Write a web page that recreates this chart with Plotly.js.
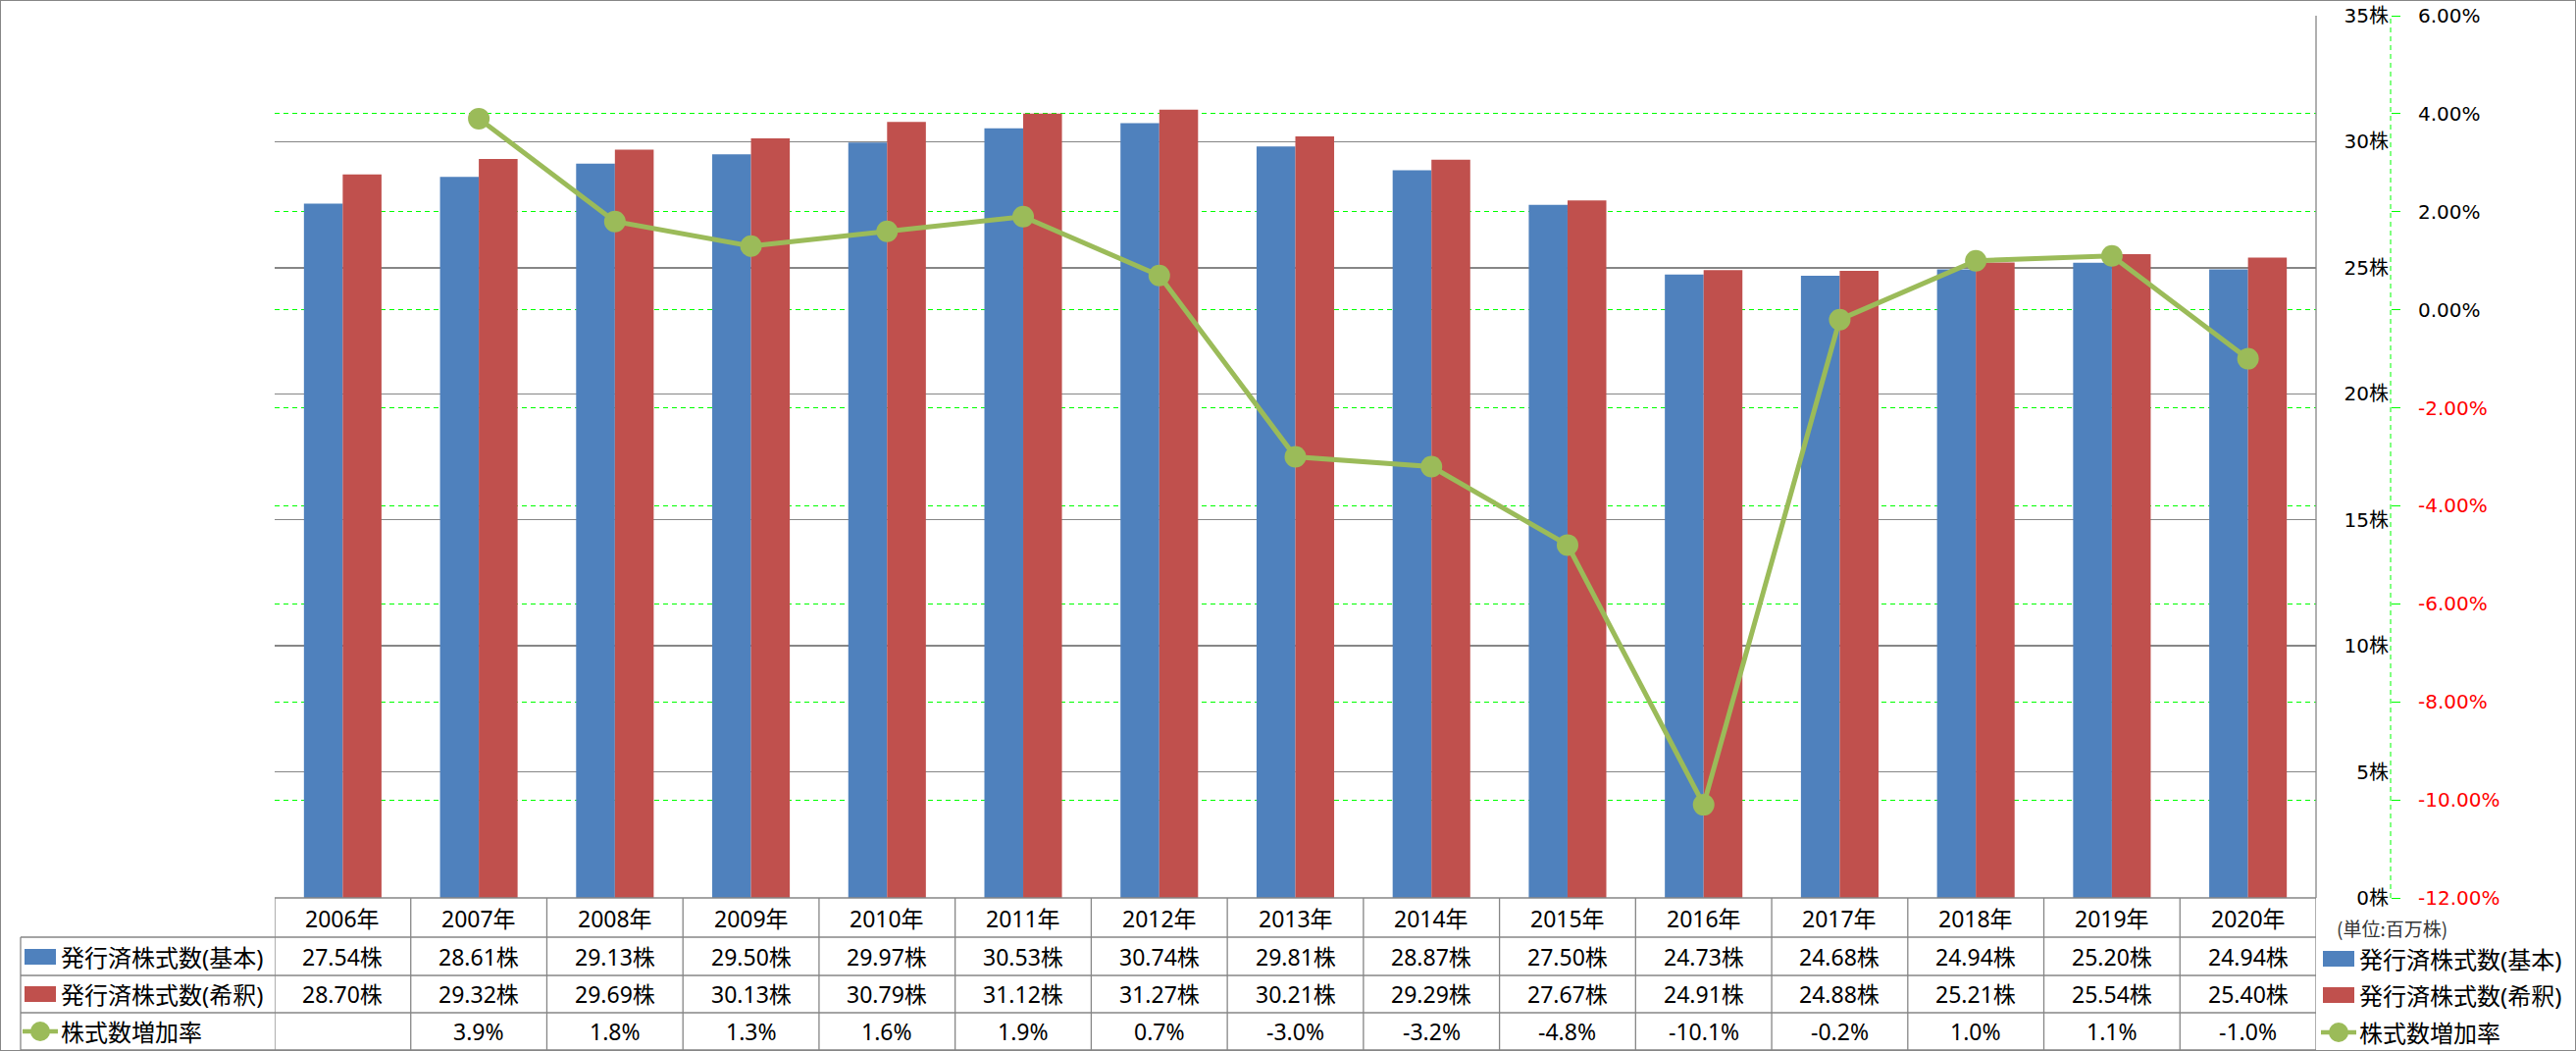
<!DOCTYPE html>
<html>
<head>
<meta charset="utf-8">
<script src="https://cdn.plot.ly/plotly-3.0.1.min.js"></script>
<style>
  html, body { margin: 0; padding: 0; background: #fff; }
  #plot { width: 2626px; height: 1071px; }
</style>
</head>
<body>
<div id="plot"></div>
<script>
// data (unit: million shares)
const years = ["2006年", "2007年", "2008年", "2009年", "2010年", "2011年", "2012年", "2013年",
  "2014年", "2015年", "2016年", "2017年", "2018年", "2019年", "2020年"];
const basicShares = [27.54, 28.61, 29.13, 29.50, 29.97, 30.53, 30.74, 29.81, 28.87, 27.50, 24.73, 24.68, 24.94, 25.20, 24.94];
const dilutedShares = [28.70, 29.32, 29.69, 30.13, 30.79, 31.12, 31.27, 30.21, 29.29, 27.67, 24.91, 24.88, 25.21, 25.54, 25.40];
const growthRate = [null, 3.9, 1.8, 1.3, 1.6, 1.9, 0.7, -3.0, -3.2, -4.8, -10.1, -0.2, 1.0, 1.1, -1.0];
const seriesNames = ["発行済株式数(基本)", "発行済株式数(希釈)", "株式数増加率"];
const shareTicks = [0, 5, 10, 15, 20, 25, 30, 35];
const rateTicks = [-12, -10, -8, -6, -4, -2, 0, 2, 4, 6];
const unitLabel = "(単位:百万株)";

const colors = ["#4F81BD", "#C0504D", "#9BBB59"];
const W = 2626, H = 1071;
const px = x => x / W;
const py = y => 1 - y / H;
const gray = "#868686";
const tableFont = "Noto Sans, Noto Sans CJK JP, sans-serif";
const axisFont = "DejaVu Sans, Noto Sans CJK JP, sans-serif";

// traces
const traces = [
  { type: "bar", x: years, y: basicShares, name: seriesNames[0], marker: { color: colors[0] } },
  { type: "bar", x: years, y: dilutedShares, name: seriesNames[1], marker: { color: colors[1] } },
  {
    type: "scatter", mode: "lines+markers", x: years, y: growthRate, name: seriesNames[2], yaxis: "y2",
    line: { color: colors[2], width: 5 }, marker: { color: colors[2], size: 22 }
  }
];

const shapes = [];
const annotations = [];

// outer frame, right edge of plot area, dashed secondary axis line
shapes.push({ type: "rect", xref: "paper", yref: "paper", x0: 0, x1: 1, y0: 0, y1: 1, line: { color: gray, width: 2 } });
shapes.push({ type: "line", xref: "x domain", yref: "y domain", x0: 1, x1: 1, y0: 0, y1: 1, line: { color: gray, width: 1.3 } });
shapes.push({ type: "line", xref: "paper", yref: "y domain", x0: px(2437), x1: px(2437), y0: 0, y1: 1,
  line: { color: "#00FF00", width: 1, dash: "5px,4px" } });

// data table grid
const rowLines = [915, 955, 994, 1032, 1070];
const rowCenters = [936, 975, 1013, 1051];
rowLines.forEach((y, k) => {
  shapes.push({ type: "line", xref: "paper", yref: "paper", x0: k === 0 ? px(280) : px(21), x1: px(2361),
    y0: py(y), y1: py(y), line: { color: gray, width: 1.3 } });
});
for (let i = 0; i <= years.length; i++) {
  shapes.push({ type: "line", xref: "x", yref: "paper", x0: i - 0.5, x1: i - 0.5, y0: py(915), y1: py(1070),
    line: { color: gray, width: 1.3 } });
}
shapes.push({ type: "line", xref: "paper", yref: "paper", x0: px(21), x1: px(21), y0: py(955), y1: py(1070),
  line: { color: gray, width: 1.3 } });

// table cells
const cell = (x, y, text) => annotations.push({
  xref: "x", yref: "paper", x: x, y: py(y), text: text, showarrow: false,
  xanchor: "center", yanchor: "middle", font: { family: tableFont, size: 23, color: "#000" }
});
years.forEach((yr, i) => {
  cell(yr, rowCenters[0], yr);
  cell(yr, rowCenters[1], basicShares[i].toFixed(2) + "株");
  cell(yr, rowCenters[2], dilutedShares[i].toFixed(2) + "株");
  if (growthRate[i] !== null) cell(yr, rowCenters[3], growthRate[i].toFixed(1) + "%");
});

// legend keys (used in table row headers and in the legend at right)
function legendKey(k, x, y) {
  if (k < 2) {
    shapes.push({ type: "rect", xref: "paper", yref: "paper", x0: px(x), x1: px(x + 32), y0: py(y + 8), y1: py(y - 8),
      fillcolor: colors[k], line: { width: 0 } });
  } else {
    shapes.push({ type: "line", xref: "paper", yref: "paper", x0: px(x - 2), x1: px(x + 34), y0: py(y), y1: py(y),
      line: { color: colors[k], width: 4.5 } });
    shapes.push({ type: "circle", xref: "paper", yref: "paper", x0: px(x + 6), x1: px(x + 26), y0: py(y + 10), y1: py(y - 10),
      fillcolor: colors[k], line: { width: 0 } });
  }
  annotations.push({
    xref: "paper", yref: "paper", x: px(x + 35), y: py(y), text: seriesNames[k], showarrow: false,
    xanchor: "left", yanchor: "middle", font: { family: tableFont, size: 24, color: "#000" }
  });
}
seriesNames.forEach((n, k) => {
  legendKey(k, 25, rowCenters[k + 1]);
  legendKey(k, 2368, [977, 1014, 1052][k]);
});

annotations.push({
  xref: "paper", yref: "paper", x: px(2380), y: py(945), text: unitLabel, showarrow: false,
  xanchor: "left", yanchor: "middle", font: { family: "Noto Sans CJK JP, sans-serif", size: 19, color: "#333" }
});

const layout = {
  width: W,
  height: H,
  margin: { l: 0, r: 0, t: 0, b: 0 },
  paper_bgcolor: "#fff",
  plot_bgcolor: "rgba(0,0,0,0)",
  showlegend: false,
  barmode: "group",
  bargap: 0.43,
  bargroupgap: 0,
  xaxis: {
    domain: [px(280), px(2361)],
    range: [-0.5, years.length - 0.5],
    showticklabels: false, ticks: "", showgrid: false, zeroline: false, showline: false
  },
  yaxis: {
    domain: [py(915), py(16)],
    range: [0, 35],
    tickmode: "array",
    tickvals: shareTicks,
    ticktext: shareTicks.map(v => v + "株"),
    anchor: "free", position: px(2437), side: "left",
    showline: false, ticks: "", ticklabelstandoff: 2,
    gridcolor: gray, gridwidth: 1.3, zeroline: false,
    tickfont: { family: axisFont, size: 20, color: "#000" }
  },
  yaxis2: {
    overlaying: "y",
    range: [-12, 6],
    tickmode: "array",
    tickvals: rateTicks,
    ticktext: rateTicks.map(v => v < 0
      ? '<span style="color:#FF0000">' + v.toFixed(2) + "%</span>"
      : v.toFixed(2) + "%"),
    anchor: "free", position: px(2437), side: "right",
    showline: false, ticks: "outside", ticklen: 9, tickwidth: 1, tickcolor: "#00FF00",
    ticklabelstandoff: 14,
    gridcolor: "#00FF00", griddash: "5px,4px", gridwidth: 1, zeroline: false,
    tickfont: { family: axisFont, size: 20, color: "#000" }
  },
  shapes: shapes,
  annotations: annotations
};

Plotly.newPlot("plot", traces, layout, { displayModeBar: false, staticPlot: true });
</script>
</body>
</html>
